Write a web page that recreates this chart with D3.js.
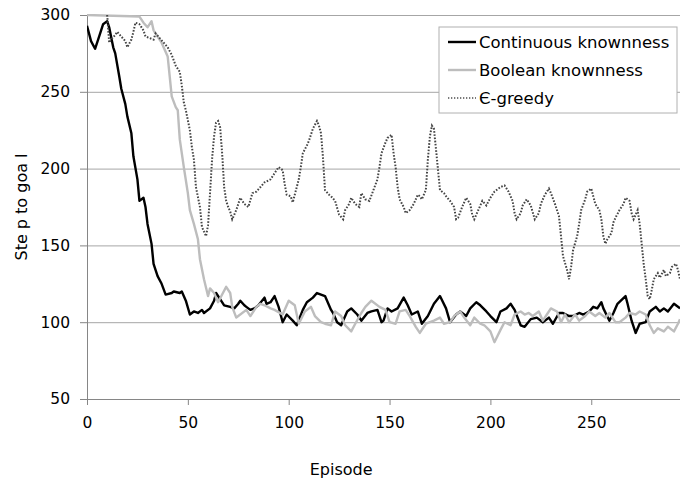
<!DOCTYPE html>
<html>
<head>
<meta charset="utf-8">
<script src="https://cdn.jsdelivr.net/npm/d3@7"></script>
<style>
	body { margin: 0; background: #fff; }
	#chart { width: 680px; height: 485px; }
	text { font-family: "DejaVu Sans", Verdana, sans-serif; fill: #000; }
</style>
</head>
<body>
<div id="chart"></div>
<script>
// data: [episode, steps to goal]
const continuousData = [[0,293],[2,283],[4,278],[6,286],[8,294],[10,296],[11,292],[13,279],[14,275],[16,260],[17,252],[19,242],[20,234],[22,223],[23,208],[25,193],[26,179],[28,181],[29,175],[30,164],[32,151],[33,138],[35,130],[37,125],[39,118],[42,119],[43,120],[46,119],[47,120],[49,114],[51,105],[53,107],[55,106],[57,108],[58,106],[61,109],[63,114],[64,119],[66,115],[68,111],[71,110],[73,109],[75,112],[76,114],[78,111],[79,110],[81,108],[83,109],[85,111],[88,116],[89,112],[91,113],[93,117],[95,110],[97,100],[99,105],[102,101],[104,98],[107,108],[109,113],[112,116],[114,119],[116,118],[118,117],[121,108],[122,106],[124,100],[126,98],[129,107],[131,109],[134,105],[136,101],[139,106],[141,107],[144,108],[146,100],[147,101],[149,109],[151,107],[154,109],[157,116],[159,111],[161,105],[164,107],[166,99],[169,104],[172,112],[175,117],[178,109],[180,100],[183,105],[185,107],[188,104],[190,109],[193,113],[195,111],[198,107],[200,104],[203,100],[205,107],[208,109],[210,112],[212,108],[215,98],[217,97],[220,102],[223,103],[226,100],[229,103],[231,99],[234,106],[236,106],[239,104],[241,104],[244,106],[246,105],[249,107],[251,110],[253,109],[255,113],[256,109],[259,101],[261,106],[263,112],[267,117],[268,112],[270,101],[272,93],[274,99],[277,100],[279,107],[282,110],[284,107],[286,109],[288,107],[291,112],[292,111],[294,109]];

const booleanData = [[0,300],[26,299],[28,295],[30,292],[32,296],[33,290],[35,286],[37,282],[40,273],[41,260],[42,247],[44,240],[45,238],[46,219],[48,201],[50,184],[51,173],[53,164],[55,154],[56,141],[58,128],[60,117],[61,122],[63,119],[65,113],[67,118],[69,123],[71,119],[72,110],[74,103],[75,104],[79,108],[81,104],[84,110],[86,112],[88,111],[91,109],[93,108],[97,105],[100,114],[103,111],[105,99],[108,107],[111,110],[113,104],[116,100],[118,99],[121,98],[123,107],[126,104],[128,98],[131,94],[133,99],[136,106],[138,110],[141,114],[145,110],[148,108],[150,100],[153,99],[155,107],[158,108],[160,104],[163,97],[165,93],[168,99],[170,100],[172,101],[175,103],[177,99],[180,100],[182,104],[185,107],[187,103],[190,98],[192,103],[195,99],[197,98],[200,94],[202,87],[205,95],[207,100],[210,98],[212,105],[215,107],[217,105],[219,106],[221,104],[224,107],[226,101],[228,105],[230,109],[233,107],[235,100],[237,105],[239,100],[242,105],[244,101],[247,104],[249,107],[252,104],[254,106],[257,103],[259,106],[262,100],[264,100],[267,103],[269,106],[272,105],[274,107],[277,105],[279,98],[281,93],[283,96],[286,94],[288,97],[291,94],[293,99],[294,102]];

const greedyData = [[10,300],[11,282],[12,284],[14,287],[15,289],[17,286],[19,283],[20,279],[22,284],[23,289],[24,295],[26,294],[28,290],[29,286],[31,285],[33,284],[34,288],[36,285],[38,282],[40,279],[42,274],[44,267],[46,263],[47,254],[48,243],[49,238],[51,225],[52,214],[53,206],[54,188],[56,175],[57,162],[58,159],[59,156],[60,163],[61,184],[62,206],[63,221],[64,230],[65,231],[66,227],[67,210],[68,188],[69,179],[70,175],[71,172],[72,167],[74,173],[76,181],[78,177],[80,175],[82,184],[84,185],[86,188],[88,191],[91,193],[93,197],[95,201],[97,199],[98,190],[99,183],[101,182],[102,178],[104,188],[105,193],[106,201],[107,210],[109,215],[110,218],[111,222],[112,226],[114,231],[115,228],[116,223],[117,207],[118,186],[120,183],[121,182],[123,179],[125,170],[127,167],[128,173],[130,177],[131,181],[133,177],[135,175],[136,184],[138,180],[140,179],[142,186],[144,193],[145,201],[146,210],[148,217],[149,220],[151,222],[152,210],[153,201],[154,188],[155,180],[157,175],[158,171],[160,173],[162,177],[164,183],[165,182],[166,180],[168,186],[169,206],[170,221],[171,228],[172,226],[173,213],[175,186],[177,184],[178,182],[180,179],[182,175],[183,167],[184,168],[186,175],[188,181],[190,177],[191,170],[192,167],[194,173],[196,179],[198,176],[200,181],[202,185],[205,188],[207,189],[209,185],[211,179],[212,171],[213,167],[215,171],[216,176],[218,180],[220,176],[222,167],[224,171],[225,177],[227,183],[229,187],[230,184],[232,177],[234,169],[235,156],[236,143],[238,134],[239,128],[240,136],[241,147],[243,156],[244,164],[245,173],[247,180],[248,185],[250,187],[251,182],[252,177],[254,173],[255,167],[256,156],[257,151],[258,154],[260,158],[261,165],[262,168],[264,173],[266,177],[267,181],[269,179],[270,171],[271,167],[273,173],[274,164],[275,151],[276,138],[277,128],[278,117],[279,115],[280,121],[281,128],[283,132],[284,129],[286,134],[287,130],[289,132],[290,136],[292,138],[293,134],[294,128]];

const seriesNames = ["Continuous knownness", "Boolean knownness", "Є-greedy"];
const xTicks = [0, 50, 100, 150, 200, 250];
const yTicks = [50, 100, 150, 200, 250, 300];

const c_grid = '#a6a6a6',
	c_axis = '#868686';

let margin = {top: 15, left: 87, right: 0, bottom: 86},
	width = 680 - margin.left - margin.right,
	height = 485 - margin.top - margin.bottom;

function draw() {

	let svg = d3.select("#chart")
		.append("svg")
		.attr("width", 680)
		.attr("height", 485)

	// scales
	// ---------------------------
	let x = d3.scaleLinear()
		.domain([0, 294])
		.range([0, width])

	let y = d3.scaleLinear()
		.domain([50, 300])
		.range([height, 0])

	let plot = svg.append("g")
		.attr("transform", "translate(" + margin.left + "," + margin.top + ")")

	// grid
	// ---------------------------
	plot.append("g")
		.attr("id", "grid")
		.call(d3.axisLeft(y).tickValues(yTicks.slice(1)).tickSize(-width).tickFormat(""))
		.call(g => g.select(".domain").remove())
		.selectAll("line")
		.attr("stroke", c_grid)

	// axis
	// ---------------------------
	let yAxis = plot.append("g")
		.call(d3.axisLeft(y).tickValues(yTicks).tickSize(7).tickPadding(10).tickSizeOuter(0))
	yAxis.select(".domain").attr("stroke", c_axis)
	yAxis.selectAll("line").attr("stroke", c_axis)
	yAxis.selectAll("text").style("font-size", "15.5px").attr("fill", "#000")

	let xAxis = plot.append("g")
		.attr("transform", "translate(0," + height + ")")
		.call(d3.axisBottom(x).tickValues(xTicks).tickSize(6).tickPadding(12).tickSizeOuter(0))
	xAxis.select(".domain").attr("stroke", c_axis)
	xAxis.selectAll("line").attr("stroke", c_axis)
	xAxis.selectAll("text").style("font-size", "15.5px").attr("fill", "#000")

	// labels
	svg.append("text")
		.attr("x", margin.left + x(126))
		.attr("y", 475)
		.attr("text-anchor", "middle")
		.style("font-size", "16px")
		.text("Episode")

	svg.append("text")
		.attr("transform", "translate(27," + (margin.top + height / 2) + ") rotate(-90)")
		.attr("text-anchor", "middle")
		.style("font-size", "16px")
		.text("Ste p to goa l")

	// lines
	// ---------------------------
	svg.append("clipPath")
		.attr("id", "clip")
		.append("rect")
		.attr("x", 0).attr("y", -1)
		.attr("width", width).attr("height", height + 1)

	let line = d3.line()
		.x(d => x(d[0]))
		.y(d => y(d[1]))

	let lines = plot.append("g").attr("clip-path", "url(#clip)")

	lines.append("path")
		.datum(continuousData)
		.attr("d", line)
		.attr("fill", "none")
		.attr("stroke", "#000")
		.attr("stroke-width", 2.4)
		.attr("stroke-linejoin", "round")

	lines.append("path")
		.datum(booleanData)
		.attr("d", line)
		.attr("fill", "none")
		.attr("stroke", "#bdbdbd")
		.attr("stroke-width", 2.4)
		.attr("stroke-linejoin", "round")

	lines.append("path")
		.datum(greedyData)
		.attr("d", line)
		.attr("fill", "none")
		.attr("stroke", "#454545")
		.attr("stroke-width", 2)
		.attr("stroke-dasharray", "1.6,1.6")

	// legend
	// ---------------------------
	let legend = svg.append("g")
		.attr("transform", "translate(439,27)")

	legend.append("rect")
		.attr("width", 238)
		.attr("height", 86)
		.attr("fill", "#fff")
		.attr("stroke", "#b0b0b0")

	let styles = [
		{stroke: "#000", w: 2.4, dash: null},
		{stroke: "#bdbdbd", w: 2.4, dash: null},
		{stroke: "#4d4d4d", w: 1.3, dash: "1.3,1.7"}
	]

	seriesNames.forEach((name, i) => {
		let row = legend.append("g")
			.attr("transform", "translate(0," + (15 + i * 28) + ")")
		row.append("line")
			.attr("x1", 9).attr("x2", 37)
			.attr("stroke", styles[i].stroke)
			.attr("stroke-width", styles[i].w)
			.attr("stroke-dasharray", styles[i].dash)
		row.append("text")
			.attr("x", 40)
			.attr("dy", "0.35em")
			.style("font-size", "16.5px")
			.text(name)
	})
}

window.onload = function() {
	draw();
}
</script>
</body>
</html>
